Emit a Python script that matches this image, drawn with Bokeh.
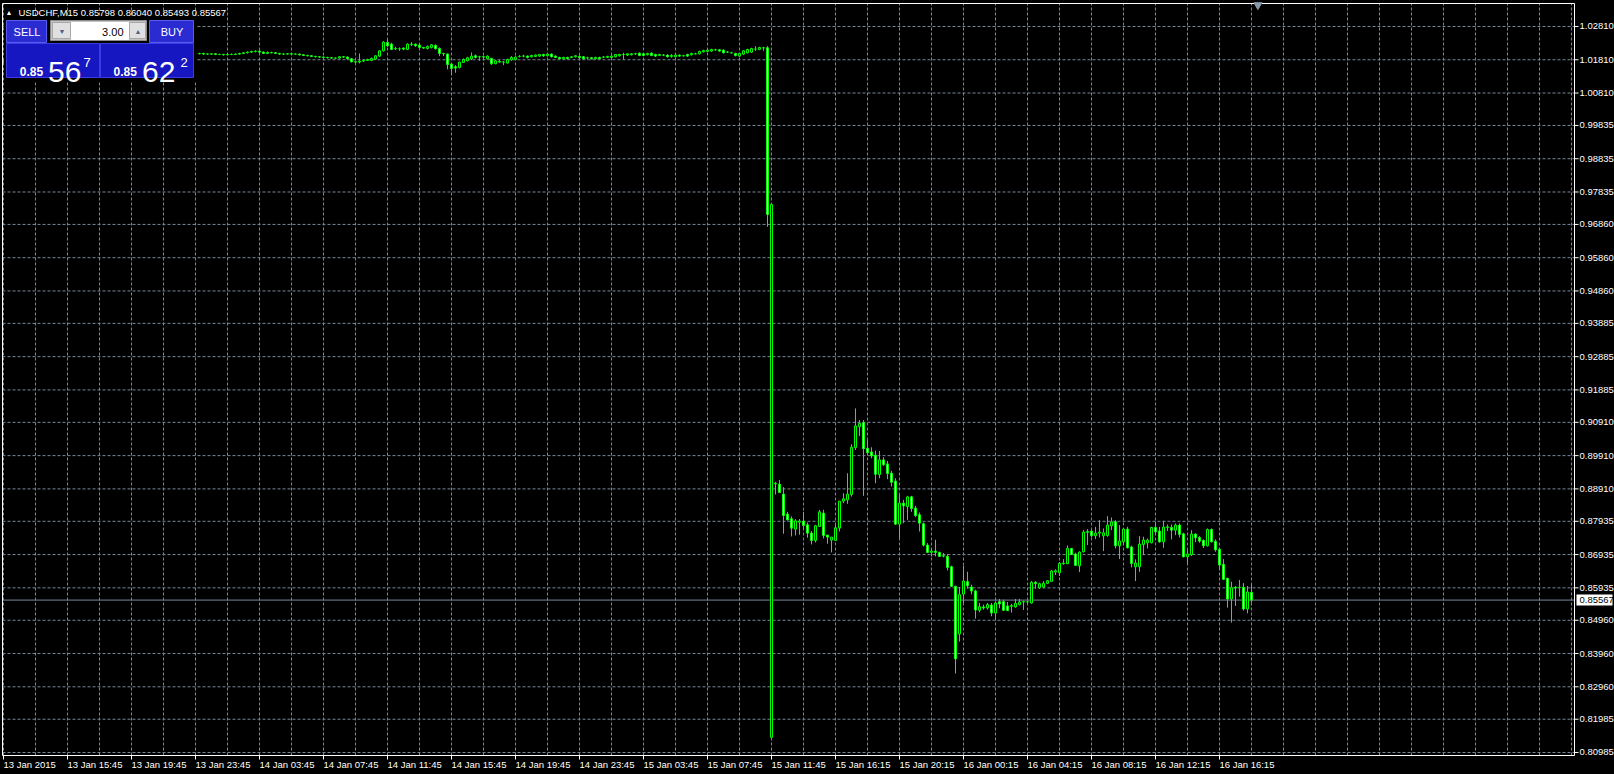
from bokeh.plotting import figure
from bokeh.models import ColumnDataSource, Range1d, Label, GlobalInlineStyleSheet
from bokeh.core.properties import value
from bokeh.embed import file_html
from bokeh.resources import INLINE

# ---------------- data ----------------
symbol = "USDCHF,M15"
sell_parts = ["0.85", "56", "7"]
buy_parts = ["0.85", "62", "2"]
lot_size = "3.00"

time_labels = ["13 Jan 2015", "13 Jan 15:45", "13 Jan 19:45", "13 Jan 23:45", "14 Jan 03:45",
               "14 Jan 07:45", "14 Jan 11:45", "14 Jan 15:45", "14 Jan 19:45", "14 Jan 23:45",
               "15 Jan 03:45", "15 Jan 07:45", "15 Jan 11:45", "15 Jan 16:15", "15 Jan 20:15",
               "16 Jan 00:15", "16 Jan 04:15", "16 Jan 08:15", "16 Jan 12:15", "16 Jan 16:15"]

price_ticks = [1.02810, 1.01810, 1.00810, 0.99835, 0.98835, 0.97835, 0.96860, 0.95860,
               0.94860, 0.93885, 0.92885, 0.91885, 0.90910, 0.89910, 0.88910, 0.87935,
               0.86935, 0.85935, 0.84960, 0.83960, 0.82960, 0.81985, 0.80985]

opens = [
    1.0175, 1.0177, 1.0180, 1.0183, 1.0185, 1.0184, 1.0188, 1.0190, 1.0189, 1.0192,
    1.0194, 1.0193, 1.0195, 1.0196, 1.0198, 1.0197, 1.0199, 1.0200, 1.0201, 1.0199,
    1.0200, 1.0202, 1.0201, 1.0203, 1.0202, 1.0200, 1.0201, 1.0203, 1.0204, 1.0202,
    1.0201, 1.0203, 1.0202, 1.0200, 1.0199, 1.0201, 1.0202, 1.0200, 1.0201, 1.0203,
    1.0202, 1.0201, 1.0199, 1.0200, 1.0202, 1.0201, 1.0200, 1.0202, 1.0201, 1.0199,
    1.0200, 1.0198, 1.0198, 1.0199, 1.0197, 1.0197, 1.0196, 1.0197, 1.0197, 1.0198,
    1.0200, 1.0202, 1.0204, 1.0206, 1.0207, 1.0204, 1.0200, 1.0203, 1.0202, 1.0200,
    1.0198, 1.0198, 1.0199, 1.0198, 1.0198, 1.0196, 1.0194, 1.0193, 1.0191, 1.0190,
    1.0189, 1.0188, 1.0187, 1.0186, 1.0186, 1.0190, 1.0189, 1.0184, 1.0175, 1.0174,
    1.0177, 1.0179, 1.0179, 1.0183, 1.0192, 1.0208, 1.0233, 1.0228, 1.0215, 1.0214,
    1.0216, 1.0212, 1.0228, 1.0228, 1.0225, 1.0218, 1.0215, 1.0218, 1.0224, 1.0215,
    1.0200, 1.0198, 1.0168, 1.0160, 1.0158, 1.0173, 1.0178, 1.0184, 1.0193, 1.0190,
    1.0190, 1.0184, 1.0185, 1.0169, 1.0176, 1.0174, 1.0171, 1.0181, 1.0182, 1.0191,
    1.0192, 1.0192, 1.0190, 1.0191, 1.0192, 1.0197, 1.0193, 1.0198, 1.0192, 1.0188,
    1.0184, 1.0188, 1.0188, 1.0190, 1.0191, 1.0190, 1.0187, 1.0187, 1.0184, 1.0188,
    1.0189, 1.0188, 1.0188, 1.0190, 1.0193, 1.0197, 1.0195, 1.0196, 1.0199, 1.0201,
    1.0199, 1.0196, 1.0201, 1.0197, 1.0194, 1.0195, 1.0195, 1.0191, 1.0190, 1.0195,
    1.0193, 1.0197, 1.0196, 1.0199, 1.0199, 1.0205, 1.0206, 1.0207, 1.0211, 1.0211,
    1.0210, 1.0204, 1.0202, 1.0200, 1.0192, 1.0198, 1.0202, 1.0204, 1.0213, 1.0212,
    1.0217, 1.0217, 0.8144, 0.8906, 0.8905, 0.8875, 0.8815, 0.8801, 0.8770, 0.8791,
    0.8794, 0.8783, 0.8758, 0.8736, 0.8778, 0.8818, 0.8752, 0.8737, 0.8736, 0.8773,
    0.8854, 0.8858, 0.8874, 0.9015, 0.9078, 0.9090, 0.9013, 0.9002, 0.8992, 0.8934,
    0.8978, 0.8966, 0.8938, 0.8914, 0.8785, 0.8848, 0.8838, 0.8867, 0.8833, 0.8813,
    0.8786, 0.8722, 0.8700, 0.8704, 0.8700, 0.8690, 0.8688, 0.8657, 0.8598, 0.8455,
    0.8575, 0.8612, 0.8596, 0.8584, 0.8526, 0.8536, 0.8533, 0.8542, 0.8518, 0.8552,
    0.8552, 0.8539, 0.8538, 0.8536, 0.8543, 0.8551, 0.8551, 0.8548, 0.8610, 0.8594,
    0.8596, 0.8607, 0.8613, 0.8641, 0.8639, 0.8666, 0.8666, 0.8712, 0.8695, 0.8660,
    0.8702, 0.8760, 0.8764, 0.8750, 0.8758, 0.8750, 0.8751, 0.8780, 0.8792, 0.8720,
    0.8732, 0.8770, 0.8716, 0.8657, 0.8657, 0.8724, 0.8729, 0.8729, 0.8775, 0.8764,
    0.8732, 0.8775, 0.8775, 0.8767, 0.8782, 0.8756, 0.8687, 0.8693, 0.8755, 0.8745,
    0.8736, 0.8720, 0.8769, 0.8733, 0.8709, 0.8664, 0.8622, 0.8560, 0.8595, 0.8595,
    0.8595, 0.8530, 0.85798,
]

highs = [
    1.0180, 1.0183, 1.0185, 1.0187, 1.0187, 1.0190, 1.0192, 1.0192, 1.0194, 1.0196,
    1.0196, 1.0197, 1.0198, 1.0200, 1.0200, 1.0201, 1.0202, 1.0203, 1.0202, 1.0202,
    1.0204, 1.0203, 1.0205, 1.0204, 1.0203, 1.0203, 1.0205, 1.0206, 1.0205, 1.0203,
    1.0204, 1.0204, 1.0203, 1.0201, 1.0202, 1.0203, 1.0203, 1.0202, 1.0204, 1.0204,
    1.0203, 1.0202, 1.0201, 1.0203, 1.0203, 1.0202, 1.0203, 1.0203, 1.0203, 1.0202,
    1.0202, 1.0200, 1.0201, 1.0201, 1.0199, 1.0199, 1.0199, 1.0200, 1.0200, 1.0202,
    1.0204, 1.0206, 1.0208, 1.0209, 1.0209, 1.0206, 1.0206, 1.0205, 1.0204, 1.0202,
    1.0201, 1.0201, 1.0201, 1.0200, 1.0200, 1.0198, 1.0196, 1.0195, 1.0193, 1.0192,
    1.0191, 1.0190, 1.0189, 1.0188, 1.0192, 1.0192, 1.0191, 1.0186, 1.0178, 1.0200,
    1.0182, 1.0184, 1.0188, 1.0194, 1.0210, 1.0237, 1.0242, 1.0232, 1.0220, 1.0218,
    1.0218, 1.0230, 1.0234, 1.0230, 1.0230, 1.0220, 1.0224, 1.0228, 1.0227, 1.0218,
    1.0202, 1.0200, 1.0170, 1.0165, 1.0175, 1.0185, 1.0190, 1.0203, 1.0197, 1.0193,
    1.0193, 1.0194, 1.0187, 1.0180, 1.0180, 1.0177, 1.0184, 1.0192, 1.0191, 1.0195,
    1.0196, 1.0194, 1.0196, 1.0197, 1.0198, 1.0199, 1.0200, 1.0200, 1.0194, 1.0190,
    1.0190, 1.0190, 1.0192, 1.0194, 1.0194, 1.0192, 1.0190, 1.0189, 1.0190, 1.0190,
    1.0191, 1.0193, 1.0194, 1.0198, 1.0199, 1.0202, 1.0200, 1.0201, 1.0202, 1.0203,
    1.0201, 1.0202, 1.0203, 1.0199, 1.0199, 1.0198, 1.0197, 1.0198, 1.0197, 1.0197,
    1.0196, 1.0199, 1.0202, 1.0202, 1.0208, 1.0211, 1.0212, 1.0214, 1.0214, 1.0213,
    1.0212, 1.0207, 1.0205, 1.0202, 1.0202, 1.0210, 1.0214, 1.0217, 1.0222, 1.0220,
    1.0220, 1.0222, 0.9746, 0.8912, 0.8918, 0.8896, 0.8822, 0.8808, 0.8800, 0.8800,
    0.8822, 0.8790, 0.8764, 0.8783, 0.8828, 0.8828, 0.8752, 0.8746, 0.8783, 0.8854,
    0.8878, 0.8938, 0.9025, 0.9133, 0.9098, 0.9098, 0.9038, 0.9016, 0.9006, 0.9005,
    0.8986, 0.8975, 0.8945, 0.8923, 0.8873, 0.8858, 0.8870, 0.8870, 0.8840, 0.8820,
    0.8790, 0.8728, 0.8710, 0.8738, 0.8702, 0.8698, 0.8695, 0.8660, 0.8600, 0.8596,
    0.8660, 0.8642, 0.8603, 0.8588, 0.8548, 0.8543, 0.8548, 0.8548, 0.8553, 0.8560,
    0.8558, 0.8551, 0.8545, 0.8560, 0.8560, 0.8555, 0.8555, 0.8614, 0.8614, 0.8609,
    0.8614, 0.8617, 0.8647, 0.8649, 0.8671, 0.8680, 0.8721, 0.8712, 0.8699, 0.8703,
    0.8767, 0.8770, 0.8769, 0.8777, 0.8797, 0.8772, 0.8809, 0.8805, 0.8797, 0.8782,
    0.8772, 0.8777, 0.8720, 0.8679, 0.8749, 0.8747, 0.8742, 0.8777, 0.8792, 0.8777,
    0.8795, 0.8784, 0.8784, 0.8787, 0.8787, 0.8759, 0.8707, 0.8767, 0.8757, 0.8749,
    0.8739, 0.8772, 0.8772, 0.8739, 0.8712, 0.8680, 0.8624, 0.8612, 0.8599, 0.8617,
    0.8608, 0.8599, 0.86040,
]

lows = [
    1.0171, 1.0175, 1.0178, 1.0181, 1.0181, 1.0183, 1.0186, 1.0187, 1.0188, 1.0190,
    1.0191, 1.0192, 1.0193, 1.0194, 1.0195, 1.0196, 1.0197, 1.0198, 1.0197, 1.0198,
    1.0199, 1.0199, 1.0200, 1.0200, 1.0198, 1.0199, 1.0200, 1.0202, 1.0201, 1.0199,
    1.0200, 1.0201, 1.0198, 1.0197, 1.0198, 1.0200, 1.0199, 1.0199, 1.0200, 1.0201,
    1.0200, 1.0198, 1.0198, 1.0199, 1.0200, 1.0199, 1.0199, 1.0200, 1.0197, 1.0197,
    1.0196, 1.0196, 1.0196, 1.0195, 1.0195, 1.0194, 1.0195, 1.0195, 1.0195, 1.0197,
    1.0198, 1.0200, 1.0202, 1.0203, 1.0202, 1.0198, 1.0198, 1.0200, 1.0198, 1.0196,
    1.0196, 1.0197, 1.0196, 1.0196, 1.0194, 1.0192, 1.0191, 1.0189, 1.0188, 1.0187,
    1.0186, 1.0185, 1.0184, 1.0184, 1.0184, 1.0187, 1.0182, 1.0173, 1.0171, 1.0170,
    1.0175, 1.0178, 1.0177, 1.0181, 1.0190, 1.0206, 1.0220, 1.0210, 1.0210, 1.0208,
    1.0210, 1.0210, 1.0222, 1.0220, 1.0215, 1.0214, 1.0212, 1.0215, 1.0212, 1.0192,
    1.0192, 1.0152, 1.0135, 1.0142, 1.0155, 1.0172, 1.0176, 1.0180, 1.0185, 1.0178,
    1.0180, 1.0182, 1.0166, 1.0168, 1.0172, 1.0165, 1.0170, 1.0178, 1.0180, 1.0188,
    1.0188, 1.0185, 1.0188, 1.0189, 1.0190, 1.0190, 1.0191, 1.0188, 1.0186, 1.0183,
    1.0182, 1.0182, 1.0186, 1.0188, 1.0184, 1.0182, 1.0182, 1.0182, 1.0182, 1.0183,
    1.0186, 1.0186, 1.0186, 1.0188, 1.0191, 1.0182, 1.0193, 1.0194, 1.0196, 1.0192,
    1.0192, 1.0194, 1.0192, 1.0190, 1.0192, 1.0192, 1.0188, 1.0187, 1.0188, 1.0190,
    1.0191, 1.0190, 1.0194, 1.0197, 1.0197, 1.0203, 1.0204, 1.0205, 1.0208, 1.0205,
    1.0200, 1.0201, 1.0200, 1.0191, 1.0190, 1.0196, 1.0200, 1.0202, 1.0208, 1.0210,
    1.0208, 0.9679, 0.8144, 0.8874, 0.8880, 0.8756, 0.8796, 0.8748, 0.8751, 0.8753,
    0.8768, 0.8744, 0.8724, 0.8730, 0.8776, 0.8742, 0.8726, 0.8700, 0.8736, 0.8763,
    0.8848, 0.8846, 0.8868, 0.9008, 0.9050, 0.8870, 0.8993, 0.8983, 0.8908, 0.8923,
    0.8960, 0.8920, 0.8898, 0.8783, 0.8743, 0.8788, 0.8798, 0.8822, 0.8806, 0.8763,
    0.8718, 0.8698, 0.8688, 0.8688, 0.8688, 0.8685, 0.8646, 0.8596, 0.8336, 0.8432,
    0.8548, 0.8591, 0.8574, 0.8501, 0.8520, 0.8528, 0.8528, 0.8508, 0.8498, 0.8532,
    0.8524, 0.8525, 0.8519, 0.8534, 0.8541, 0.8527, 0.8545, 0.8546, 0.8591, 0.8590,
    0.8592, 0.8605, 0.8611, 0.8632, 0.8629, 0.8663, 0.8666, 0.8692, 0.8659, 0.8641,
    0.8700, 0.8722, 0.8745, 0.8740, 0.8745, 0.8704, 0.8747, 0.8767, 0.8712, 0.8680,
    0.8722, 0.8712, 0.8655, 0.8614, 0.8642, 0.8692, 0.8712, 0.8727, 0.8752, 0.8729,
    0.8714, 0.8764, 0.8739, 0.8752, 0.8745, 0.8685, 0.8667, 0.8689, 0.8731, 0.8729,
    0.8713, 0.8718, 0.8730, 0.8702, 0.8647, 0.8617, 0.8534, 0.8489, 0.8539, 0.8567,
    0.8525, 0.8517, 0.85493,
]

closes = [
    1.0177, 1.0180, 1.0183, 1.0185, 1.0184, 1.0188, 1.0190, 1.0189, 1.0192, 1.0194,
    1.0193, 1.0195, 1.0196, 1.0198, 1.0197, 1.0199, 1.0200, 1.0201, 1.0199, 1.0200,
    1.0202, 1.0201, 1.0203, 1.0202, 1.0200, 1.0201, 1.0203, 1.0204, 1.0202, 1.0201,
    1.0203, 1.0202, 1.0200, 1.0199, 1.0201, 1.0202, 1.0200, 1.0201, 1.0203, 1.0202,
    1.0201, 1.0199, 1.0200, 1.0202, 1.0201, 1.0200, 1.0202, 1.0201, 1.0199, 1.0200,
    1.0198, 1.0198, 1.0199, 1.0197, 1.0197, 1.0196, 1.0197, 1.0197, 1.0198, 1.0200,
    1.0202, 1.0204, 1.0206, 1.0207, 1.0204, 1.0200, 1.0203, 1.0202, 1.0200, 1.0198,
    1.0198, 1.0199, 1.0198, 1.0198, 1.0196, 1.0194, 1.0193, 1.0191, 1.0190, 1.0189,
    1.0188, 1.0187, 1.0186, 1.0186, 1.0190, 1.0189, 1.0184, 1.0175, 1.0174, 1.0177,
    1.0179, 1.0182, 1.0185, 1.0193, 1.0208, 1.0234, 1.0223, 1.0212, 1.0214, 1.0214,
    1.0213, 1.0228, 1.0227, 1.0223, 1.0218, 1.0216, 1.0221, 1.0226, 1.0214, 1.0200,
    1.0199, 1.0167, 1.0155, 1.0156, 1.0174, 1.0182, 1.0187, 1.0192, 1.0188, 1.0190,
    1.0189, 1.0192, 1.0169, 1.0178, 1.0174, 1.0174, 1.0182, 1.0188, 1.0189, 1.0191,
    1.0192, 1.0188, 1.0194, 1.0195, 1.0197, 1.0193, 1.0198, 1.0190, 1.0188, 1.0184,
    1.0188, 1.0184, 1.0190, 1.0193, 1.0187, 1.0184, 1.0187, 1.0184, 1.0188, 1.0184,
    1.0189, 1.0191, 1.0192, 1.0197, 1.0197, 1.0197, 1.0199, 1.0199, 1.0199, 1.0194,
    1.0194, 1.0200, 1.0194, 1.0192, 1.0197, 1.0195, 1.0190, 1.0194, 1.0195, 1.0192,
    1.0193, 1.0192, 1.0200, 1.0199, 1.0206, 1.0209, 1.0210, 1.0212, 1.0211, 1.0207,
    1.0202, 1.0204, 1.0202, 1.0194, 1.0200, 1.0208, 1.0212, 1.0215, 1.0213, 1.0218,
    1.0217, 0.9716, 0.9746, 0.8908, 0.8880, 0.8811, 0.8798, 0.8773, 0.8795, 0.8794,
    0.8781, 0.8758, 0.8736, 0.8780, 0.8822, 0.8751, 0.8746, 0.8746, 0.8774, 0.8854,
    0.8861, 0.8875, 0.9016, 0.9080, 0.9088, 0.9012, 0.9000, 0.8990, 0.8935, 0.8978,
    0.8964, 0.8937, 0.8911, 0.8785, 0.8848, 0.8840, 0.8867, 0.8832, 0.8811, 0.8788,
    0.8722, 0.8700, 0.8704, 0.8700, 0.8688, 0.8689, 0.8655, 0.8598, 0.8380, 0.8573,
    0.8614, 0.8600, 0.8584, 0.8527, 0.8537, 0.8533, 0.8543, 0.8518, 0.8548, 0.8545,
    0.8526, 0.8525, 0.8540, 0.8547, 0.8551, 0.8552, 0.8551, 0.8610, 0.8606, 0.8606,
    0.8607, 0.8615, 0.8644, 0.8645, 0.8667, 0.8668, 0.8712, 0.8694, 0.8661, 0.8701,
    0.8761, 0.8763, 0.8750, 0.8758, 0.8761, 0.8759, 0.8782, 0.8792, 0.8720, 0.8734,
    0.8770, 0.8714, 0.8667, 0.8668, 0.8725, 0.8737, 0.8737, 0.8775, 0.8762, 0.8732,
    0.8776, 0.8777, 0.8767, 0.8782, 0.8754, 0.8687, 0.8695, 0.8755, 0.8744, 0.8734,
    0.8720, 0.8769, 0.8732, 0.8708, 0.8662, 0.8619, 0.8560, 0.8594, 0.8593, 0.8595,
    0.8530, 0.8581, 0.85567,
]

# ---------------- derived ----------------
n = len(closes)
assert len(opens) == n and len(highs) == n and len(lows) == n
xs = list(range(n))
body_top = [max(o, c) for o, c in zip(opens, closes)]
body_bot = [min(o, c) for o, c in zip(opens, closes)]
body_fill = ["white" if c < o else "black" for o, c in zip(opens, closes)]
src = ColumnDataSource(dict(x=xs, high=highs, low=lows, top=body_top, bottom=body_bot, fill=body_fill))

BARS_PER_LABEL = 16
BARS_PER_GRID = 8

# ---------------- canvas / scale geometry ----------------
W, H = 1614, 774
DX = 0.25                     # bars per pixel (4 px per bar)
DY = 0.00030062               # price per pixel
BAR0_PX = 3.0                 # canvas x of the first bar
XS0 = -BAR0_PX * DX           # data x at canvas left edge
YS1 = 1.035014 + 3.0 * DY     # data y at canvas top edge


def cx(px):  # canvas pixel -> data x (chart furniture only)
    return XS0 + px * DX


def cy(py):  # canvas pixel -> data y (chart furniture only)
    return YS1 - py * DY


X_LEFT, X_RIGHT = cx(2.0), cx(1574.0)   # chart frame
Y_TOP, Y_BOT = cy(3.0), cy(755.0)

LIME = "#00ff00"
GRID = "#778899"
FONT = "Liberation Sans"
FS = "9.5px"

p = figure(width=W, height=H, x_range=Range1d(XS0, XS0 + W * DX), y_range=Range1d(YS1 - H * DY, YS1),
           x_axis_location=None, y_axis_location=None, min_border=0,
           output_backend="svg", toolbar_location=None,
           background_fill_color="black", border_fill_color="black", outline_line_color=None)
p.grid.visible = False
p.stylesheets = [GlobalInlineStyleSheet(css="html, body { background-color: #000000; }")]

# grid (dashed)
grid_x = list(range(0, int(X_RIGHT) + 1, BARS_PER_GRID))
p.segment(x0=grid_x, y0=[Y_BOT] * len(grid_x), x1=grid_x, y1=[Y_TOP] * len(grid_x),
          line_color=GRID, line_dash="3 2", line_width=1)
p.segment(x0=[X_LEFT] * len(price_ticks), y0=price_ticks, x1=[X_RIGHT] * len(price_ticks),
          y1=price_ticks, line_color=GRID, line_dash="3 2", line_width=1)

# current bid line
last = closes[-1]
p.segment(x0=[X_LEFT], y0=[last], x1=[X_RIGHT], y1=[last], line_color=GRID, line_width=1)

# candles
p.segment(x0="x", y0="high", x1="x", y1="low", source=src, line_color=LIME, line_width=1)
p.vbar(x="x", width=0.5, top="top", bottom="bottom", source=src,
       fill_color="fill", line_color=LIME, line_width=1)

# chart frame
p.segment(x0=[X_LEFT, X_RIGHT, X_LEFT, X_LEFT], y0=[Y_BOT, Y_BOT, Y_TOP, Y_BOT],
          x1=[X_LEFT, X_RIGHT, X_RIGHT, X_RIGHT], y1=[Y_TOP, Y_TOP, Y_TOP, Y_BOT],
          line_color="white", line_width=1)

# price scale (right)
p.segment(x0=[X_RIGHT] * len(price_ticks), y0=price_ticks,
          x1=[X_RIGHT + 4 * DX] * len(price_ticks), y1=price_ticks, line_color="white", line_width=1)
p.text(x=[X_RIGHT + 5 * DX] * len(price_ticks), y=price_ticks,
       text=[f"{v:.5f}" for v in price_ticks], text_color="white",
       text_font=value(FONT), text_font_size=value(FS), text_align="left", text_baseline="middle")

# time scale (bottom)
label_ticks = [k * BARS_PER_LABEL for k in range(len(time_labels))]
p.segment(x0=label_ticks, y0=[Y_BOT] * len(label_ticks), x1=label_ticks,
          y1=[Y_BOT - 4 * DY] * len(label_ticks), line_color="white", line_width=1)
p.text(x=label_ticks, y=[Y_BOT - 9 * DY] * len(label_ticks), text=time_labels, text_color="white",
       text_font=value(FONT), text_font_size=value(FS), text_align="left", text_baseline="middle")

# bid tag on the price scale
p.quad(left=[X_RIGHT + 2 * DX], right=[X_RIGHT + 38 * DX], top=[last + 5.5 * DY],
       bottom=[last - 5.5 * DY], fill_color="white", line_color=None)
p.text(x=[X_RIGHT + 5 * DX], y=[last], text=[f"{last:.5f}"], text_color="black",
       text_font=value(FONT), text_font_size=value(FS), text_align="left", text_baseline="middle")

# chart-shift marker at the top edge
p.scatter(x=[n + 0.6], y=[Y_TOP - 1.5 * DY], marker="inverted_triangle", size=8,
          fill_color="#8899aa", line_color="#8899aa")

# ---------------- one-click trading panel (canvas pixels) ----------------
panel_boxes = [
    (4, 196, 17, 80, "black", "black"),
    (6, 46, 20, 42, "#2b2bd2", "#5a5af2"),
    (149, 193, 20, 42, "#2b2bd2", "#5a5af2"),
    (50, 146, 20, 40, "#c4c4c4", "#8c8c8c"),
    (71, 128, 22, 39, "white", "white"),
    (52, 70, 22, 38, "#e0e0e0", "#a8a8a8"),
    (129, 145, 22, 38, "#e0e0e0", "#a8a8a8"),
    (6, 99, 43, 77, "#1717c2", "#3c3ce6"),
    (100, 193, 43, 77, "#1717c2", "#3c3ce6"),
]
for l, r, t, b, fc, lc in panel_boxes:
    p.quad(left=[cx(l)], right=[cx(r)], top=[cy(t)], bottom=[cy(b)],
           fill_color=fc, line_color=lc, line_width=1)

title = f"{symbol}  {opens[-1]:.5f} {highs[-1]:.5f} {lows[-1]:.5f} {closes[-1]:.5f}"
panel_texts = [
    ("\u25b2", 8.5, 11.5, "7px", "white", "center", "middle", "normal"),
    (title, 18, 11.7, FS, "white", "left", "middle", "normal"),
    ("SELL", 26.5, 31.5, "11px", "white", "center", "middle", "normal"),
    ("BUY", 171.5, 31.5, "11px", "white", "center", "middle", "normal"),
    (lot_size, 123, 31, "11px", "black", "right", "middle", "normal"),
    ("\u25bc", 61.5, 31, "7px", "#4a5f8a", "center", "middle", "normal"),
    ("\u25b2", 137.5, 31, "7px", "#4a5f8a", "center", "middle", "normal"),
    (sell_parts[0], 19.3, 71.2, "12px", "white", "left", "alphabetic", "bold"),
    (sell_parts[1], 47.5, 71.2, "30px", "white", "left", "alphabetic", "normal"),
    (sell_parts[2], 83, 62, "13px", "white", "left", "alphabetic", "normal"),
    (buy_parts[0], 113, 71.2, "12px", "white", "left", "alphabetic", "bold"),
    (buy_parts[1], 141.5, 71.2, "30px", "white", "left", "alphabetic", "normal"),
    (buy_parts[2], 180, 62, "13px", "white", "left", "alphabetic", "normal"),
]
for txt, x, y, fs, col, align, base, style in panel_texts:
    p.add_layout(Label(x=cx(x), y=cy(y), text=txt, text_font=FONT, text_font_size=fs,
                       text_color=col, text_align=align, text_baseline=base,
                       text_font_style=style))

open("out.html", "w").write(file_html(p, INLINE))
